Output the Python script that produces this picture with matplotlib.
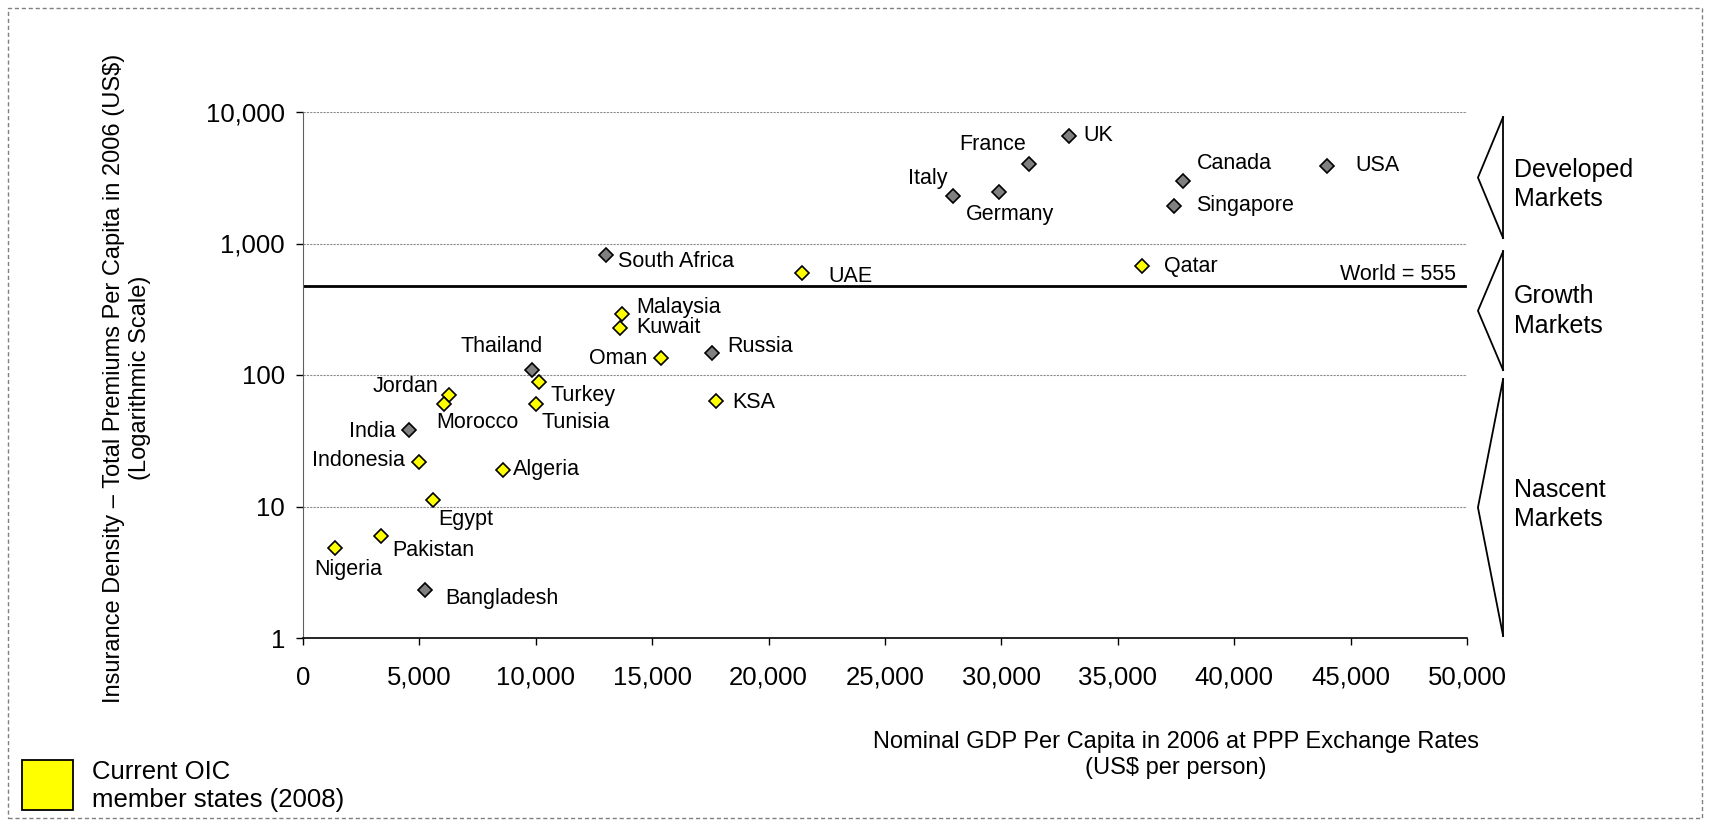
import numpy as np
import matplotlib
matplotlib.use("Agg")
from matplotlib import pyplot as plt
from matplotlib.patches import Rectangle
from matplotlib.ticker import FuncFormatter, FixedLocator, NullLocator

plt.rcParams['font.family'] = ['Liberation Sans', 'DejaVu Sans']

# data
countries = ['USA', 'UK', 'France', 'Germany', 'Italy', 'Canada', 'Singapore',
             'South Africa', 'Thailand', 'Russia', 'India', 'Bangladesh',
             'Qatar', 'UAE', 'Malaysia', 'Kuwait', 'Oman', 'Turkey', 'Jordan',
             'Morocco', 'Tunisia', 'KSA', 'Indonesia', 'Algeria', 'Egypt',
             'Pakistan', 'Nigeria']
gdp = [44000, 32900, 31200, 29900, 27900, 37800, 37400,
       13000, 9850, 17550, 4540, 5230,
       36050, 21450, 13720, 13630, 15360, 10120, 6280,
       6070, 10010, 17760, 4990, 8610, 5580,
       3340, 1370]
density = [3910, 6610, 4050, 2480, 2300, 2970, 1940,
           822, 109, 147, 38.5, 2.31,
           678, 596, 293, 229, 134, 89, 71,
           60, 60, 63, 21.9, 19.0, 11.2,
           5.98, 4.82]
oic = [False] * 12 + [True] * 15

world_level = 475
world_label = 'World = 555'
x_ticks = [0, 5000, 10000, 15000, 20000, 25000, 30000, 35000, 40000, 45000, 50000]
y_ticks = [1, 10, 100, 1000, 10000]
bands = ['Developed\nMarkets', 'Growth\nMarkets', 'Nascent\nMarkets']
band_ranges = [(1100, 9150), (109, 870), (1.04, 93)]

# label placement (pixel offsets from marker, alignment)
label_pos = {
    'USA': (28, 0, 'left'), 'UK': (14, 0, 'left'), 'France': (-3, 19, 'right'),
    'Germany': (-33, -23, 'left'), 'Italy': (-5, 17, 'right'),
    'Canada': (14, 18, 'left'), 'Singapore': (22, 0, 'left'),
    'South Africa': (12, -7, 'left'), 'Thailand': (-31, 24, 'center'),
    'Russia': (16, 6, 'left'), 'India': (-13, -2, 'right'),
    'Bangladesh': (20, -8, 'left'), 'Qatar': (22, -1, 'left'),
    'UAE': (26, -3, 'left'), 'Malaysia': (14, 6, 'left'),
    'Kuwait': (16, 0, 'left'), 'Oman': (-13, 0, 'right'),
    'Turkey': (12, -14, 'left'), 'Jordan': (-11, 8, 'right'),
    'Morocco': (-8, -18, 'left'), 'Tunisia': (5, -18, 'left'),
    'KSA': (16, -1, 'left'), 'Indonesia': (-14, 1, 'right'),
    'Algeria': (10, 0, 'left'), 'Egypt': (5, -19, 'left'),
    'Pakistan': (11, -15, 'left'), 'Nigeria': (13, -21, 'center'),
}
# vertical nudge of the bracket captions (pixels, down is negative)
band_text_shift = [-7, 0, 3]

W, H = 1711, 824
fig = plt.figure(figsize=(W / 100, H / 100), dpi=100)
ax = fig.add_axes([303 / W, 1 - 638 / H, 1164 / W, 526 / H])

ax.set_yscale('log')
ax.set_xlim(0, 50000)
ax.set_ylim(1, 10000)

for y in y_ticks[1:]:
    ax.axhline(y, color='#8c8c8c', lw=0.8, ls=(0, (2, 1)), zorder=0)
ax.axhline(world_level, xmax=0.998, color='black', lw=2, zorder=1)
ax.annotate(world_label, (44550, world_level), xytext=(0, 1),
            textcoords='offset pixels', ha='left', va='bottom', fontsize=15.5)

gdp_a = np.array(gdp)
den_a = np.array(density)
oic_a = np.array(oic)
ax.plot(gdp_a[~oic_a], den_a[~oic_a], 'D', ms=6.8, mfc='#808080', mec='black',
        mew=1.2, ls='none', zorder=3, clip_on=False)
ax.plot(gdp_a[oic_a], den_a[oic_a], 'D', ms=6.8, mfc='#FFFF00', mec='black',
        mew=1.2, ls='none', zorder=3, clip_on=False)

for name, gx, dy in zip(countries, gdp, density):
    ox, oy, ha = label_pos[name]
    ax.annotate(name, (gx, dy), xytext=(ox, oy), textcoords='offset pixels',
                ha=ha, va='center', fontsize=15.5)

ax.xaxis.set_major_locator(FixedLocator(x_ticks))
ax.yaxis.set_major_locator(FixedLocator(y_ticks))
ax.yaxis.set_minor_locator(NullLocator())
ax.xaxis.set_major_formatter(FuncFormatter(lambda v, p: f'{int(v):,}'))
ax.yaxis.set_major_formatter(FuncFormatter(lambda v, p: f'{int(v):,}'))
ax.tick_params(axis='both', labelsize=18.5, length=5, width=1, direction='out')
ax.tick_params(axis='y', pad=8, colors='black')
ax.tick_params(axis='x', pad=15)
for s in ['top', 'right']:
    ax.spines[s].set_visible(False)
ax.spines['left'].set_color('#606060')
ax.spines['bottom'].set_color('black')
ax.spines['bottom'].set_linewidth(1.2)

# market brackets on the right
tr = ax.get_yaxis_transform()
for label, (lo, hi), shift in zip(bands, band_ranges, band_text_shift):
    mid = np.sqrt(lo * hi)
    ax.plot([1.031, 1.031], [lo, hi], color='black', lw=1.3, transform=tr, clip_on=False)
    ax.plot([1.031, 1.0094, 1.031], [hi, mid, lo], color='black', lw=1.3,
            transform=tr, clip_on=False)
    ax.annotate(label, (1.040, mid), xycoords=tr, xytext=(0, shift),
                textcoords='offset pixels', ha='left', va='center',
                fontsize=18, linespacing=1.3)

fig.text(1176 / W, 1 - 755 / H,
         'Nominal GDP Per Capita in 2006 at PPP Exchange Rates\n(US$ per person)',
         ha='center', va='center', fontsize=17, multialignment='center')
fig.text(127 / W, 1 - 378 / H,
         'Insurance Density \u2013 Total Premiums Per Capita in 2006 (US$)\n(Logarithmic Scale)',
         ha='center', va='center', rotation=90, fontsize=17, multialignment='center')

# legend
fig.patches.append(Rectangle((22 / W, 1 - 810 / H), 51 / W, 50 / H, transform=fig.transFigure,
                             facecolor='#FFFF00', edgecolor='black', lw=1.3))
fig.text(92 / W, 1 - 786 / H, 'Current OIC\nmember states (2008)', ha='left',
         va='center', fontsize=18.5, linespacing=1.25)

# dashed frame
fig.patches.append(Rectangle((8 / W, 1 - 818 / H), 1694 / W, 810 / H, transform=fig.transFigure,
                             facecolor='none', edgecolor='#808080', lw=1, ls=(0, (3, 2))))

fig.savefig('out.png', dpi=100)
